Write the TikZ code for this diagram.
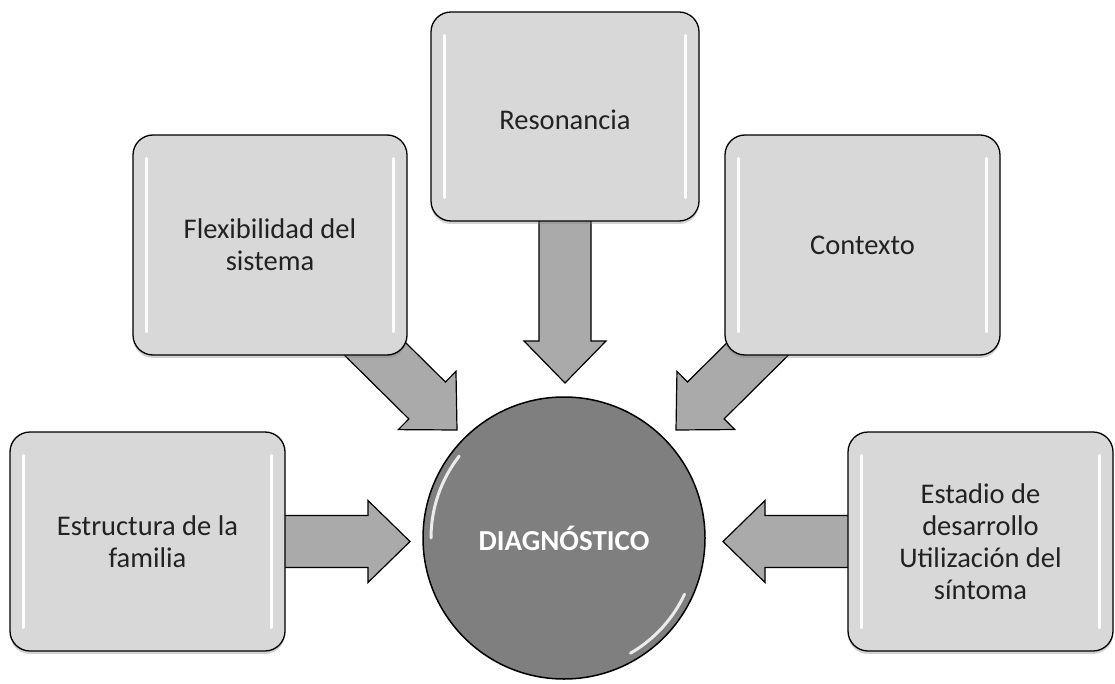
\documentclass[tikz,border=0pt]{standalone}
\usepackage{fontspec}
\setmainfont{Carlito}
\usetikzlibrary{calc,shadows}
\definecolor{boxgray}{RGB}{216,216,216}
\definecolor{arrgray}{RGB}{170,170,170}
\definecolor{circgray}{RGB}{127,127,127}
\definecolor{txtgray}{RGB}{34,34,34}
\pgfdeclarelayer{bg}
\pgfsetlayers{bg,main}
\newcommand\blockarrow[2]{%
  \path ($(#2)!42pt!(#1)$) coordinate (hb);
  \filldraw[barrow] ($(#1)!26pt!90:(#2)$) -- ($(hb)!26pt!-90:(#1)$) -- ($(hb)!41pt!-90:(#1)$) -- (#2)
     -- ($(hb)!41pt!90:(#1)$) -- ($(hb)!26pt!90:(#1)$) -- ($(#1)!26pt!-90:(#2)$) -- cycle;
}
\begin{document}
\begin{tikzpicture}[x=1pt,y=-1pt,
  box/.style={draw=black, line width=1.3pt, fill=boxgray, rounded corners=20pt,
    text=txtgray, align=center, font=\fontsize{28.5}{32}\selectfont,
    drop shadow={opacity=0.35, shadow xshift=0pt, shadow yshift=-3pt}},
  barrow/.style={draw=black, line width=1.2pt, fill=arrgray, line join=miter},
  gloss/.style={white, line width=3pt, line cap=round, opacity=0.95}]
\useasboundingbox (0,0) rectangle (1115,684);

\node[box, minimum width=275pt, minimum height=219pt] (estr) at (147.5,541.5) {Estructura de la\\familia};
\node[box, minimum width=274pt, minimum height=220pt] (flex) at (270,245) {Flexibilidad del\\sistema};
\node[box, minimum width=268pt, minimum height=209pt, text height=32pt, text depth=6pt] (res) at (565,116.5) {Resonancia};
\node[box, minimum width=275pt, minimum height=220pt] (ctx) at (862.5,245) {Contexto};
\node[box, minimum width=265pt, minimum height=219pt] (est) at (980.5,541.5) {Estadio de\\desarrollo\\Utilización del\\síntoma};

\foreach \n in {estr,flex,res,ctx,est}{
  \draw[gloss] ($(\n.north west)+(14,24)$) -- ($(\n.south west)+(14,-24)$);
  \draw[gloss] ($(\n.north east)+(-14,24)$) -- ($(\n.south east)+(-14,-24)$);
}

\node[circle, draw=black, line width=1.5pt, fill=circgray, minimum size=282pt, inner sep=0pt,
      text=white, font=\fontsize{29}{32}\selectfont\bfseries] (diag) at (564,538) {DIAGNÓSTICO};
\draw[white, line width=3pt, line cap=round, opacity=0.85] (diag.center) ++(180:133) arc[start angle=180, end angle=218, radius=133];
\draw[white, line width=3pt, line cap=round, opacity=0.85] (diag.center) ++(25:133) arc[start angle=25, end angle=60, radius=133];

\coordinate (tL) at (410,541.5);
\coordinate (tR) at (723,541.5);
\coordinate (tD) at (565,383);
\coordinate (tFL) at (457,430);
\coordinate (tFR) at (676,430);

\begin{pgfonlayer}{bg}
\blockarrow{estr.center}{tL}
\blockarrow{est.center}{tR}
\blockarrow{res.center}{tD}
\blockarrow{flex.center}{tFL}
\blockarrow{ctx.center}{tFR}
\end{pgfonlayer}
\end{tikzpicture}
\end{document}
